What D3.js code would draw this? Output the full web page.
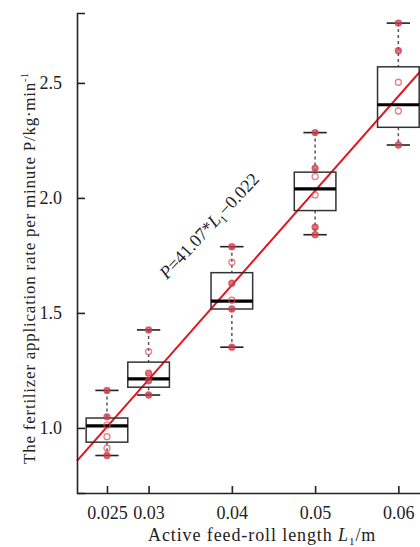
<!DOCTYPE html>
<html lang="en">
<head>
	<meta charset="utf-8">
	<title>Feed-roll length vs application rate</title>
	<script src="https://d3js.org/d3.v7.min.js"></script>
	<style>
		body { margin: 0; background: #fff; }
		text { font-family: "Liberation Serif", "Times New Roman", serif; fill: #222; }
	</style>
</head>
<body>
	<script>

	// active feed-roll length levels (m)
	var levels = [0.025, 0.03, 0.04, 0.05, 0.06];

	// box statistics (kg/min)
	var whiskerLow  = [0.880, 1.143, 1.351, 1.840, 2.230];
	var q1          = [0.938, 1.177, 1.517, 1.945, 2.307];
	var median      = [1.009, 1.213, 1.551, 2.039, 2.405];
	var q3          = [1.043, 1.286, 1.675, 2.112, 2.570];
	var whiskerHigh = [1.163, 1.426, 1.788, 2.284, 2.760];

	// measured points per level (repeated values overlap and look filled)
	var points = [
		[1.163, 1.163, 1.048, 1.048, 1.012, 0.962, 0.912, 0.880, 0.880],
		[1.426, 1.426, 1.332, 1.238, 1.238, 1.205, 1.205, 1.143, 1.143],
		[1.788, 1.788, 1.720, 1.629, 1.629, 1.555, 1.517, 1.517, 1.351, 1.351],
		[2.284, 2.284, 2.129, 2.129, 2.093, 2.013, 1.873, 1.873, 1.840, 1.840],
		[2.760, 2.760, 2.640, 2.640, 2.503, 2.378, 2.230, 2.230]
	];

	// fitted line P = a*L1 + b
	var fitSlope = 41.07,
	    fitIntercept = -0.022;

	var xTicks = [0.025, 0.03, 0.04, 0.05, 0.06];
	var yTicks = [1.0, 1.5, 2.0, 2.5];

	var width = 420,
	    height = 547;

	var svg = d3.select("body")
		.append("svg")
		.attr("width", width)
		.attr("height", height);

	var x = d3.scaleLinear()
		.domain([0.0214, 0.0626])
		.range([77, 420]);

	var y = d3.scaleLinear()
		.domain([0.717, 2.804])
		.range([493, 13]);

	var boxW = x(0.025) - x(0.020);   // box is 0.005 wide in data units
	var capW = x(0.0228) - x(0.020);

	// regression line
	svg.append("line")
		.attr("x1", x(x.domain()[0]))
		.attr("y1", y(fitSlope * x.domain()[0] + fitIntercept))
		.attr("x2", x(x.domain()[1]))
		.attr("y2", y(fitSlope * x.domain()[1] + fitIntercept))
		.attr("stroke", "#e3161e")
		.attr("stroke-width", 2);

	var groups = svg.append("g")
		.selectAll("g")
		.data(levels)
		.enter().append("g")
		.attr("transform", function(d) { return "translate(" + x(d) + ",0)"; });

	// dashed whiskers
	groups.append("line")
		.attr("y1", function(d, i) { return y(whiskerHigh[i]); })
		.attr("y2", function(d, i) { return y(q3[i]); })
		.attr("stroke", "#555").attr("stroke-width", 1.5)
		.attr("stroke-dasharray", "3,3");
	groups.append("line")
		.attr("y1", function(d, i) { return y(q1[i]); })
		.attr("y2", function(d, i) { return y(whiskerLow[i]); })
		.attr("stroke", "#555").attr("stroke-width", 1.5)
		.attr("stroke-dasharray", "3,3");

	// caps
	[whiskerHigh, whiskerLow].forEach(function(arr) {
		groups.append("line")
			.attr("x1", -capW / 2).attr("x2", capW / 2)
			.attr("y1", function(d, i) { return y(arr[i]); })
			.attr("y2", function(d, i) { return y(arr[i]); })
			.attr("stroke", "#222").attr("stroke-width", 1.6);
	});

	// boxes
	groups.append("rect")
		.attr("x", -boxW / 2)
		.attr("width", boxW)
		.attr("y", function(d, i) { return y(q3[i]); })
		.attr("height", function(d, i) { return y(q1[i]) - y(q3[i]); })
		.attr("fill", "none")
		.attr("stroke", "#333")
		.attr("stroke-width", 1.5);

	groups.append("line")
		.attr("x1", -boxW / 2).attr("x2", boxW / 2)
		.attr("y1", function(d, i) { return y(median[i]); })
		.attr("y2", function(d, i) { return y(median[i]); })
		.attr("stroke", "#000").attr("stroke-width", 3.2);

	// raw points
	groups.each(function(d, i) {
		var counts = d3.rollup(points[i], function(v) { return v.length; }, function(v) { return v; });
		d3.select(this).selectAll("circle")
			.data(Array.from(counts))
			.enter().append("circle")
			.attr("cy", function(p) { return y(p[0]); })
			.attr("r", 3)
			.attr("fill", function(p) { return p[1] > 1 ? "#d33a48" : "none"; })
			.attr("fill-opacity", 0.7)
			.attr("stroke", function(p) { return p[1] > 1 ? "#d33a48" : "#e5505a"; })
			.attr("stroke-width", 1.3)
			.attr("stroke-opacity", 0.75);
	});

	// axes
	var xAxis = svg.append("g")
		.attr("transform", "translate(0," + y.range()[0] + ")")
		.call(d3.axisBottom(x).tickValues(xTicks)
			.tickFormat(function(d) { return d3.format("")(+d.toFixed(3)); })
			.tickSizeInner(-7).tickSizeOuter(0).tickPadding(13));

	var yAxis = svg.append("g")
		.attr("transform", "translate(" + x.range()[0] + ",0)")
		.call(d3.axisLeft(y).tickValues(yTicks)
			.tickFormat(d3.format(".1f"))
			.tickSizeInner(-8).tickSizeOuter(-8).tickPadding(15));

	[xAxis, yAxis].forEach(function(a) {
		a.select(".domain").attr("stroke", "#222").attr("stroke-width", 1.6);
		a.selectAll(".tick line").attr("stroke", "#222").attr("stroke-width", 1.6);
		a.selectAll(".tick text")
			.style("font-family", "'Liberation Serif', serif")
			.style("font-size", "18px")
			.attr("fill", "#222");
	});

	// axis titles
	var xt = svg.append("text")
		.attr("x", 148)
		.attr("y", 541)
		.style("font-size", "18px")
		.style("letter-spacing", "0.9px");
	xt.append("tspan").text("Active feed-roll length ");
	xt.append("tspan").style("font-style", "italic").text("L");
	xt.append("tspan").attr("dy", 4).style("font-size", "11px").text("1");
	xt.append("tspan").attr("dy", -4).text("/m");

	var yt = svg.append("text")
		.attr("transform", "translate(35,268) rotate(-90)")
		.attr("text-anchor", "middle")
		.style("font-size", "17px")
		.style("letter-spacing", "0.75px");
	yt.append("tspan").text("The fertilizer application rate per minute P/kg\u00b7min");
	yt.append("tspan").attr("dy", -7).style("font-size", "10px").text("-1");

	// fitted equation label
	var eq = svg.append("text")
		.attr("transform", "translate(" + x(0.0322) + "," + y(1.643) + ") rotate(-47)")
		.style("font-size", "18px");
	eq.append("tspan").style("font-style", "italic").text("P");
	eq.append("tspan").text("=41.07*");
	eq.append("tspan").style("font-style", "italic").text("L");
	eq.append("tspan").attr("dy", 4).style("font-size", "11px").text("1");
	eq.append("tspan").attr("dy", -4).text("\u22120.022");

	</script>
</body>
</html>
